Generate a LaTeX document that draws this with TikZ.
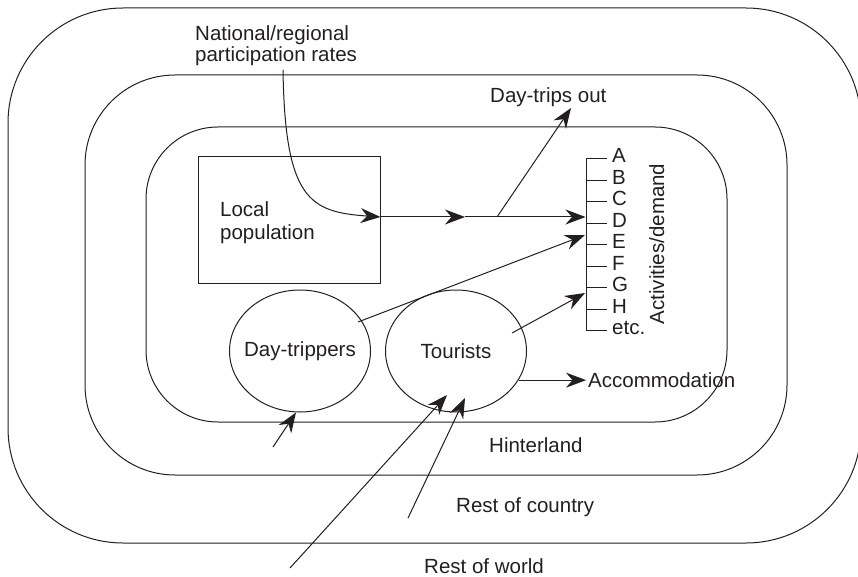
\documentclass[tikz,border=0pt]{standalone}
\usepackage{fontspec}
\setmainfont{Liberation Sans}
\usetikzlibrary{arrows.meta,shapes.geometric}
\definecolor{ink}{RGB}{35,31,32}
\begin{document}
\begin{tikzpicture}[x=1pt,y=-1pt,
  every node/.style={font=\fontsize{20.5}{24}\selectfont, inner sep=0pt, text=ink},
  zone/.style={draw=ink, line width=1pt},
  flow/.style={draw=ink, line width=1pt, -{Stealth[length=20pt,width=15pt,inset=6.5pt]}},
  group/.style={draw=ink, ellipse, line width=1pt, minimum width=141pt, minimum height=122pt},
  lbl/.style={anchor=base west},
]
\useasboundingbox (0,0) rectangle (858,577);

% nested zones: rest of world, rest of country, hinterland
\draw[zone, rounded corners=115pt] (8,8) rectangle (861,543);
\draw[zone, rounded corners=90pt] (85,75) rectangle (787,475);
\draw[zone, rounded corners=72pt] (146,127) rectangle (727,422);

% local population
\node[draw=ink, line width=1pt, minimum width=182pt, minimum height=126pt] (lp) at (289,220) {};
\node[lbl, align=left] (lpt) at (220,240) {Local\\population};

% visitor groups
\node[group] (dt) at (300,351) {\makebox[0pt]{Day-trippers}};
\node[group] (to) at (456,351) {\makebox[0pt]{Tourists}};

% activities / demand list
\draw[zone] (586,159) -- (586,331);
\foreach \lab [count=\i from 0] in {A,B,C,D,E,F,G,H,etc.} {
  \draw[zone] (586,159+21.47*\i) -- ++(20.7,0);
  \node[lbl] (act\i) at (612,163+21.47*\i) {\lab};
}
\node[anchor=base, rotate=90] (ad) at (664,244) {Activities/demand};
\coordinate (inD) at (585.5,217);
\coordinate (inE) at (585,235);
\coordinate (inG) at (585,293);

% labels
\node[lbl, align=left, font=\fontsize{20.5}{21}\selectfont] (nr) at (195,62) {National/regional\\participation rates};
\node[lbl] (dto) at (490,103) {Day-trips out};
\node[lbl] (acc) at (588,387) {Accommodation};
\node[lbl] (hl) at (489,452) {Hinterland};
\node[lbl] (rc) at (456,512) {Rest of country};
\node[lbl] (rw) at (424,573) {Rest of world};

% flows
\coordinate (nrfoot) at (283,70);
\coordinate (midtip) at (465,217);
\coordinate (fork) at (497,217);
\coordinate (outtip) at (571,108);
\draw[flow] (nrfoot) .. controls (285,200) and (310,212) .. (lp.east |- inD);
\draw[flow] (lp.east |- inD) -- (midtip);
\draw[flow] (midtip) -- (inD);
\draw[flow] (fork) -- (outtip);

\draw[flow] ([shift={(58,-29)}]dt.center) -- (inE);
\draw[flow] ([shift={(56,-18)}]to.center) -- (inG);
\draw[flow] (to.-25) -- ([xshift=-2pt]to.-25 -| acc.west);

\coordinate (hin) at (273,447);
\coordinate (country) at (408,518);
\coordinate (world) at (290,568);
\draw[flow] (hin) -- ([xshift=-4pt]dt.south);
\draw[flow] (world) -- ([shift={(-9,44)}]to.center);
\draw[flow] (country) -- ([shift={(9,47)}]to.center);
\end{tikzpicture}
\end{document}
